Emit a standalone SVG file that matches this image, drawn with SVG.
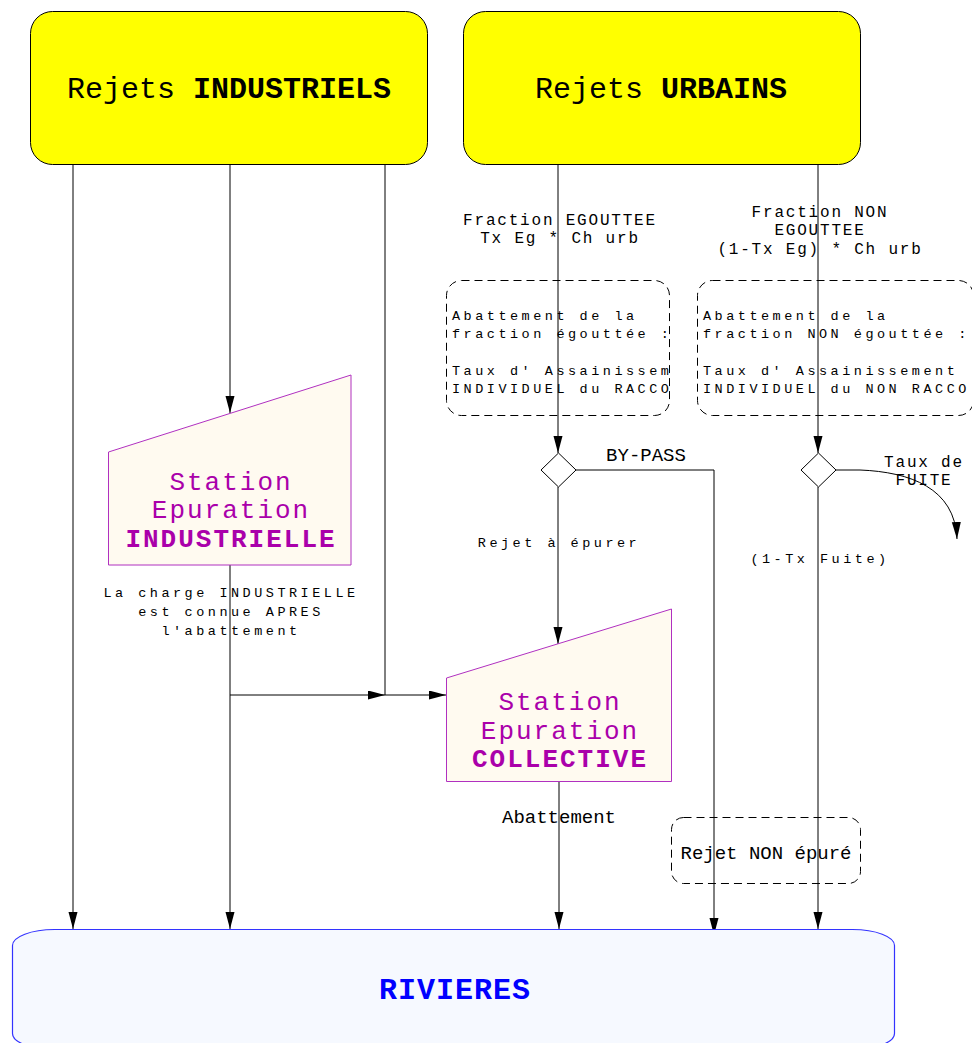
<svg xmlns="http://www.w3.org/2000/svg" width="972" height="1043" viewBox="0 0 972 1043">
<defs>
<marker id="arr" markerUnits="userSpaceOnUse" markerWidth="18" markerHeight="10" refX="17" refY="4.5" orient="auto">
<path d="M0,0 L17,4.5 L0,9 z" fill="#000"/>
</marker>
</defs>
<style>
.src{fill:#ffff00;stroke:#000;stroke-width:1}
.big{font-family:"Liberation Mono",monospace;font-size:30px;fill:#000}
.b{font-weight:bold}
.st{fill:#fffaf0;stroke:#b030c0;stroke-width:1}
.stt{font-family:"Liberation Mono",monospace;font-size:26px;letter-spacing:2px;fill:#aa00aa;text-anchor:middle}
.lbl{font-family:"Liberation Mono",monospace;font-size:19px;fill:#000;text-anchor:middle}
.ml{font-family:"Liberation Mono",monospace;font-size:16px;letter-spacing:1.8px;fill:#000;text-anchor:middle}
.sm{font-family:"Liberation Mono",monospace;font-size:13.5px;letter-spacing:3.5px;fill:#000}
.dash{fill:none;stroke:#000;stroke-width:1;stroke-dasharray:8,5}
.c{fill:none;stroke:#000;stroke-width:1}
.ca{fill:none;stroke:#000;stroke-width:1;marker-end:url(#arr)}
.dia{fill:#fff;stroke:#000;stroke-width:1}
</style>
<rect x="0" y="0" width="972" height="1043" fill="#fff"/>

<g id="connectors">
<path class="ca" d="M73,165 V929"/>
<path class="ca" d="M230,165 V413"/>
<path class="ca" d="M385,165 V695 H446"/>
<path class="ca" d="M230,565 V929"/>
<path class="ca" d="M230,695 H385"/>
<path class="ca" d="M558,165 V453"/>
<path class="ca" d="M558,487 V644"/>
<path class="ca" d="M576,470 H714 V935"/>
<path class="ca" d="M818,165 V453"/>
<path class="ca" d="M818,487 V929"/>
<path class="ca" d="M836,470 L860,470 C910,472 955,488 957,539"/>
<path class="ca" d="M559,782 V929"/>
</g>

<g id="rejets-industriels">
<rect class="src" x="30.5" y="11.5" width="397" height="153" rx="22"/>
<text class="big" x="229" y="98" text-anchor="middle">Rejets <tspan class="b">INDUSTRIELS</tspan></text>
</g>

<g id="rejets-urbains">
<rect class="src" x="463.5" y="11.5" width="397" height="153" rx="22"/>
<text class="big" x="661" y="98" text-anchor="middle">Rejets <tspan class="b">URBAINS</tspan></text>
</g>

<g id="label-fraction-egouttee">
<text class="ml" x="560" y="225">Fraction EGOUTTEE</text>
<text class="ml" x="560" y="243">Tx Eg * Ch urb</text>
</g>

<g id="label-fraction-non-egouttee">
<text class="ml" x="820" y="217">Fraction NON</text>
<text class="ml" x="820" y="235">EGOUTTEE</text>
<text class="ml" x="820" y="254">(1-Tx Eg) * Ch urb</text>
</g>

<g id="abattement-egouttee">
<rect class="dash" x="446.5" y="280.5" width="223" height="135" rx="15"/>
<text class="sm" x="452" y="320">Abattement de la</text>
<text class="sm" x="452" y="338">fraction égouttée :</text>
<text class="sm" x="452" y="375">Taux d' Assainissem</text>
<text class="sm" x="452" y="393">INDIVIDUEL du RACCO</text>
</g>

<g id="abattement-non-egouttee">
<rect class="dash" x="697.5" y="280.5" width="276" height="135" rx="15"/>
<text class="sm" x="703" y="320">Abattement de la</text>
<text class="sm" x="703" y="338">fraction NON égouttée :</text>
<text class="sm" x="703" y="375">Taux d' Assainissement</text>
<text class="sm" x="703" y="393">INDIVIDUEL du NON RACCO</text>
</g>

<g id="decision-bypass">
<polygon class="dia" points="558.5,453 576,470 558.5,487 541,470"/>
<text class="lbl" x="646" y="461">BY-PASS</text>
<text class="sm" x="559" y="547" text-anchor="middle">Rejet à épurer</text>
</g>

<g id="decision-fuite">
<polygon class="dia" points="818.5,453 836,470 818.5,487 801,470"/>
<text class="ml" x="924" y="467">Taux de</text>
<text class="ml" x="924" y="485">FUITE</text>
<text class="sm" x="820" y="563" text-anchor="middle">(1-Tx Fuite)</text>
</g>

<g id="station-industrielle">
<polygon class="st" points="108.5,452 351,375 351,565 108.5,565"/>
<text class="stt" x="231" y="490">Station</text>
<text class="stt" x="231" y="518">Epuration</text>
<text class="stt b" x="231" y="547">INDUSTRIELLE</text>
<text class="sm" x="231" y="597" text-anchor="middle">La charge INDUSTRIELLE</text>
<text class="sm" x="231" y="616" text-anchor="middle">est connue APRES</text>
<text class="sm" x="231" y="635" text-anchor="middle">l'abattement</text>
</g>

<g id="station-collective">
<polygon class="st" points="446.5,678 671.5,609 671.5,781.5 446.5,781.5"/>
<text class="stt" x="560" y="710">Station</text>
<text class="stt" x="560" y="739">Epuration</text>
<text class="stt b" x="560" y="767">COLLECTIVE</text>
<text class="lbl" x="559" y="823">Abattement</text>
</g>

<g id="rejet-non-epure">
<rect class="dash" x="671.5" y="817.5" width="189" height="66" rx="12"/>
<text class="lbl" x="766" y="859">Rejet NON épuré</text>
</g>

<g id="rivieres">
<rect x="12.5" y="929.5" width="882" height="120" rx="42" ry="16" fill="#f6f9ff" stroke="#3333ff" stroke-width="1.2"/>
<text x="455" y="999" text-anchor="middle" font-family="Liberation Mono, monospace" font-size="30" font-weight="bold" letter-spacing="1" fill="#0000ff">RIVIERES</text>
</g>
</svg>
